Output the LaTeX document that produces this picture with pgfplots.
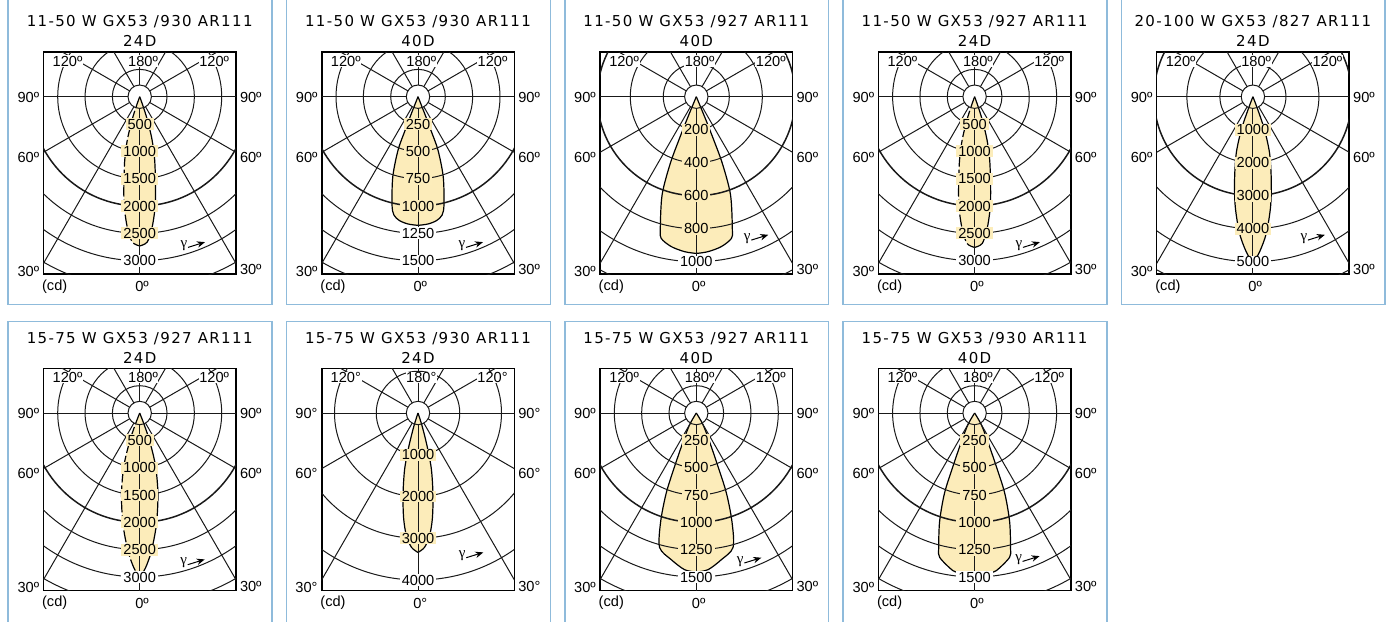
\documentclass[border=0pt]{standalone}
\usepackage{fontspec}
\setmainfont{Liberation Sans}
\newfontfamily\titlefont[LetterSpace=9]{DejaVu Sans}
\newfontfamily\gammafont{Liberation Serif}
\usepackage{pgfplots}
\pgfplotsset{compat=1.18}
\usepackage{pgfplotstable}
\usetikzlibrary{arrows.meta}
\definecolor{beamfill}{HTML}{FCECBA}
\definecolor{labfill}{HTML}{FCEDBB}
\definecolor{bordercol}{HTML}{8FBBDB}

% beam tables: a = gamma angle (deg, negative = left half), cd = luminous intensity
\pgfplotstableread{
a cd
-21 0
-19.5 190
-18.2 450
-16 820
-13.3 1190
-10 1670
-8 2030
-5.5 2390
-3 2660
0 2730
3 2660
5.5 2390
8 2030
10 1670
13.3 1190
16 820
18.2 450
19.5 190
21 0
}\beamA
\pgfplotstableread{
a cd
-23 0
-21.5 165
-21 327
-20.5 521
-17.5 767
-13.5 1018
-11.5 1105
-8.5 1146
-4.5 1168
0 1177
4.5 1168
8.5 1146
11.5 1105
13.5 1018
17.5 767
20.5 521
21 327
21.5 165
23 0
}\beamB
\pgfplotstableread{
a cd
-24 0
-22.5 120
-22 260
-21.3 435
-19.2 631
-15.2 833
-13.9 885
-9.5 921
-4.3 942
0 950
4.3 942
9.5 921
13.9 885
15.2 833
19.2 631
21.3 435
22 260
22.5 120
24 0
}\beamC
\pgfplotstableread{
a cd
-21 0
-19.5 192
-18.2 455
-16 828
-13.3 1202
-10 1687
-8 2050
-5.5 2414
-3 2687
0 2757
3 2687
5.5 2414
8 2050
10 1687
13.3 1202
16 828
18.2 455
19.5 192
21 0
}\beamD
\pgfplotstableread{
a cd
-22 0
-20.6 430
-19.3 1070
-16.4 1790
-12.4 2590
-9.1 3380
-5.6 4160
-2.5 4700
0 5050
2.5 4700
5.6 4160
9.1 3380
12.4 2590
16.4 1790
19.3 1070
20.6 430
22 0
}\beamE
\pgfplotstableread{
a cd
-23 0
-21 230
-19.5 550
-16.6 1020
-12.6 1530
-8.5 2065
-4.8 2540
-2.1 2840
0 3000
2.1 2840
4.8 2540
8.5 2065
12.6 1530
16.6 1020
19.5 550
21 230
23 0
}\beamF
\pgfplotstableread{
a cd
-19 0
-17.5 320
-15.4 810
-13.4 1380
-10.3 2010
-7.7 2560
-5.4 2950
-2.8 3220
0 3340
2.8 3220
5.4 2950
7.7 2560
10.3 2010
13.4 1380
15.4 810
17.5 320
19 0
}\beamG
\pgfplotstableread{
a cd
-36 0
-30 120
-25 275
-22.1 527
-20.6 782
-18.2 1043
-15.3 1274
-9.7 1361
-4.3 1437
0 1455
4.3 1437
9.7 1361
15.3 1274
18.2 1043
20.6 782
22.1 527
25 275
30 120
36 0
}\beamH
\pgfplotstableread{
a cd
-36 0
-30 120
-25 275
-22.1 527
-20.6 782
-17.9 1041
-14.9 1278
-13.6 1359
-7.8 1456
-4.8 1469
0 1464
4.8 1469
7.8 1456
13.6 1359
14.9 1278
17.9 1041
20.6 782
22.1 527
25 275
30 120
36 0
}\beamI

\tikzset{
  lab/.style={font=\fontsize{7.3}{8}\selectfont, inner xsep=1pt, inner ysep=0.4pt},
  albl/.style={font=\fontsize{7.3}{8}\selectfont, inner sep=0.3pt},
  gridl/.style={line width=0.5pt, black!90},
}

\newcommand\panel[3]{%
\pgfmathsetmacro\AX{(#1-96.3)*0.5}%
\pgfmathsetmacro\AY{-(#2+177.3)*0.5}%
\pgfmathsetmacro\CX{#1*0.5}%
\pgfmathsetmacro\CY{-#2*0.5}%
\begin{axis}[at={(\AX pt,\AY pt)}, anchor=south west, x=0.5pt, y=0.5pt,
  xmin=-96.3, xmax=96.3, ymin=-177.3, ymax=44.4, xtick=\empty, ytick=\empty,
  axis line style={line width=0.8pt, black}, clip=false]
\addplot[fill=beamfill, draw=none, smooth, tension=0.5]
  table[x expr={\thisrow{cd}*\kk*sin(\thisrow{a})}, y expr={-\thisrow{cd}*\kk*cos(\thisrow{a})}] {#3};
\addplot[black, line width=0.6pt, smooth, tension=0.5, restrict expr to domain={\thisrow{a}}{-0.001:90}]
  table[x expr={\thisrow{cd}*\kk*sin(\thisrow{a})}, y expr={-\thisrow{cd}*\kk*cos(\thisrow{a})}] {#3};
\ifnum\dl=1
\addplot[black, line width=0.6pt, dash pattern=on 6pt off 1.5pt, smooth, tension=0.5, restrict expr to domain={\thisrow{a}}{-90:0.001}]
  table[x expr={\thisrow{cd}*\kk*sin(\thisrow{a})}, y expr={-\thisrow{cd}*\kk*cos(\thisrow{a})}] {#3};
\else
\addplot[black, line width=0.6pt, smooth, tension=0.5, restrict expr to domain={\thisrow{a}}{-90:0.001}]
  table[x expr={\thisrow{cd}*\kk*sin(\thisrow{a})}, y expr={-\thisrow{cd}*\kk*cos(\thisrow{a})}] {#3};
\fi
\end{axis}
\begin{scope}[shift={(\CX pt,\CY pt)}, x=0.5pt, y=0.5pt]
  \begin{scope}
    \clip (-96.3,-177.3) rectangle (96.3,44.4);
    \foreach \rn in {1,...,9} {%
      \ifnum\rn=\thickn
        \draw[gridl, line width=0.75pt] (0,0) circle[radius={\rn*\rsp*0.5pt}];
      \else
        \draw[gridl] (0,0) circle[radius={\rn*\rsp*0.5pt}];
      \fi
    }
    \foreach \g in {0,30,...,330} \draw[gridl] ({\g-90}:11.7) -- ({\g-90}:420);
  \end{scope}
  \draw[gridl] (0,0) circle[radius=5.85pt];
  \foreach \rn/\lbl/\lc in \labs {\node[lab, fill=\lc] at (0,{-\rn*\rsp}) {\lbl};}
  \node[albl, fill=white] at (-72.2,35.5) {120\dg};
  \node[albl, fill=white] at (3.3,35.5) {180\dg};
  \node[albl, fill=white] at (74.5,35.5) {120\dg};
  \node[albl, anchor=east] at (-99.5,-0.5) {90\dg};
  \node[albl, anchor=west] at (99.3,-0.5) {90\dg};
  \node[albl, anchor=east] at (-99.5,-60.5) {60\dg};
  \node[albl, anchor=west] at (99.3,-60.5) {60\dg};
  \node[albl, anchor=east] at (-99.5,-174.5) {30\dg};
  \node[albl, anchor=west] at (99.3,-173) {30\dg};
  \node[albl] at (-85,-190) {(cd)};
  \node[albl] at (2.3,-190) {0\dg};
  \node[albl, font=\gammafont\fontsize{7.5}{8}\selectfont] at (\gx,\gy) {γ};
  \draw[line width=0.5pt, -{Stealth[length=4pt, width=3.2pt]}] ({\gx+4},{\gy-1.7}) -- ({\gx+21},{\gy+3.6});
  \node[anchor=base, font=\titlefont\fontsize{7.5}{9}\selectfont, inner sep=0pt] at (0,70) {\Tone};
  \node[anchor=base, font=\titlefont\fontsize{7.5}{9}\selectfont, inner sep=0pt] at (0,50) {\Ttwo};
\end{scope}
}

\begin{document}
\begin{tikzpicture}
\useasboundingbox (0,0) rectangle (695.5pt,-310.5pt);
\fill[white] (0,0) rectangle (695.5pt,-310.5pt);
% panel frames
\foreach \i in {0,...,4} \draw[bordercol, line width=0.8pt] ({(8.2+278.3*\i)*0.5pt},5pt) rectangle ({(272+278.3*\i)*0.5pt},{-304.5*0.5pt});
\foreach \i in {0,...,3} \draw[bordercol, line width=0.8pt] ({(8.2+278.3*\i)*0.5pt},{-321.5*0.5pt}) rectangle ({(272+278.3*\i)*0.5pt},{-640*0.5pt});

% Panel 1
\def\Tone{11-50 W GX53 /930 AR111}\def\Ttwo{24D}
\def\rsp{27.33}\def\kk{0.05466}\def\thickn{4}\def\dl{1}
\def\labs{1/500/labfill,2/1000/labfill,3/1500/labfill,4/2000/labfill,5/2500/labfill,6/3000/white}
\def\gx{44.3}\def\gy{-149}\def\dg{º}
\panel{139.7}{96.7}{\beamA}

% Panel 2
\def\Tone{11-50 W GX53 /930 AR111}\def\Ttwo{40D}
\def\rsp{27.33}\def\kk{0.10932}\def\thickn{4}\def\dl{0}
\def\labs{1/250/labfill,2/500/labfill,3/750/labfill,4/1000/labfill,5/1250/white,6/1500/white}
\def\gx{44}\def\gy{-149}\def\dg{º}
\panel{418.0}{96.7}{\beamB}

% Panel 3
\def\Tone{11-50 W GX53 /927 AR111}\def\Ttwo{40D}
\def\rsp{33}\def\kk{0.165}\def\thickn{3}\def\dl{0}
\def\labs{1/200/beamfill,2/400/beamfill,3/600/beamfill,4/800/beamfill,5/1000/white}
\def\gx{51}\def\gy{-141.7}\def\dg{º}
\panel{696.3}{96.7}{\beamC}

% Panel 4
\def\Tone{11-50 W GX53 /927 AR111}\def\Ttwo{24D}
\def\rsp{27.33}\def\kk{0.05466}\def\thickn{4}\def\dl{1}
\def\labs{1/500/labfill,2/1000/labfill,3/1500/labfill,4/2000/labfill,5/2500/labfill,6/3000/white}
\def\gx{44.3}\def\gy{-149}\def\dg{º}
\panel{974.6}{96.7}{\beamD}

% Panel 5
\def\Tone{20-100 W GX53 /827 AR111}\def\Ttwo{24D}
\def\rsp{33}\def\kk{0.033}\def\thickn{3}\def\dl{0}
\def\labs{1/1000/labfill,2/2000/labfill,3/3000/labfill,4/4000/labfill,5/5000/white}
\def\gx{51}\def\gy{-141.7}\def\dg{º}
\panel{1252.9}{96.7}{\beamE}

% Panel 6
\def\Tone{15-75 W GX53 /927 AR111}\def\Ttwo{24D}
\def\rsp{27.33}\def\kk{0.05466}\def\thickn{4}\def\dl{1}
\def\labs{1/500/labfill,2/1000/labfill,3/1500/labfill,4/2000/labfill,5/2500/labfill,6/3000/white}
\def\gx{44}\def\gy{-150}\def\dg{º}
\panel{139.7}{413}{\beamF}

% Panel 7
\def\Tone{15-75 W GX53 /930 AR111}\def\Ttwo{24D}
\def\rsp{41.75}\def\kk{0.04175}\def\thickn{0}\def\dl{0}
\def\labs{1/1000/labfill,2/2000/labfill,3/3000/labfill,4/4000/white}
\def\gx{44.3}\def\gy{-143}\def\dg{°}
\panel{418.0}{413}{\beamG}

% Panel 8
\def\Tone{15-75 W GX53 /927 AR111}\def\Ttwo{40D}
\def\rsp{27.33}\def\kk{0.10932}\def\thickn{4}\def\dl{0}
\def\labs{1/250/beamfill,2/500/beamfill,3/750/beamfill,4/1000/beamfill,5/1250/beamfill,6/1500/white}
\def\gx{44}\def\gy{-148.3}\def\dg{º}
\panel{696.3}{413}{\beamH}

% Panel 9
\def\Tone{15-75 W GX53 /930 AR111}\def\Ttwo{40D}
\def\rsp{27.33}\def\kk{0.10932}\def\thickn{4}\def\dl{0}
\def\labs{1/250/beamfill,2/500/beamfill,3/750/beamfill,4/1000/beamfill,5/1250/beamfill,6/1500/white}
\def\gx{44}\def\gy{-146.7}\def\dg{º}
\panel{974.6}{413}{\beamI}
\end{tikzpicture}
\end{document}
